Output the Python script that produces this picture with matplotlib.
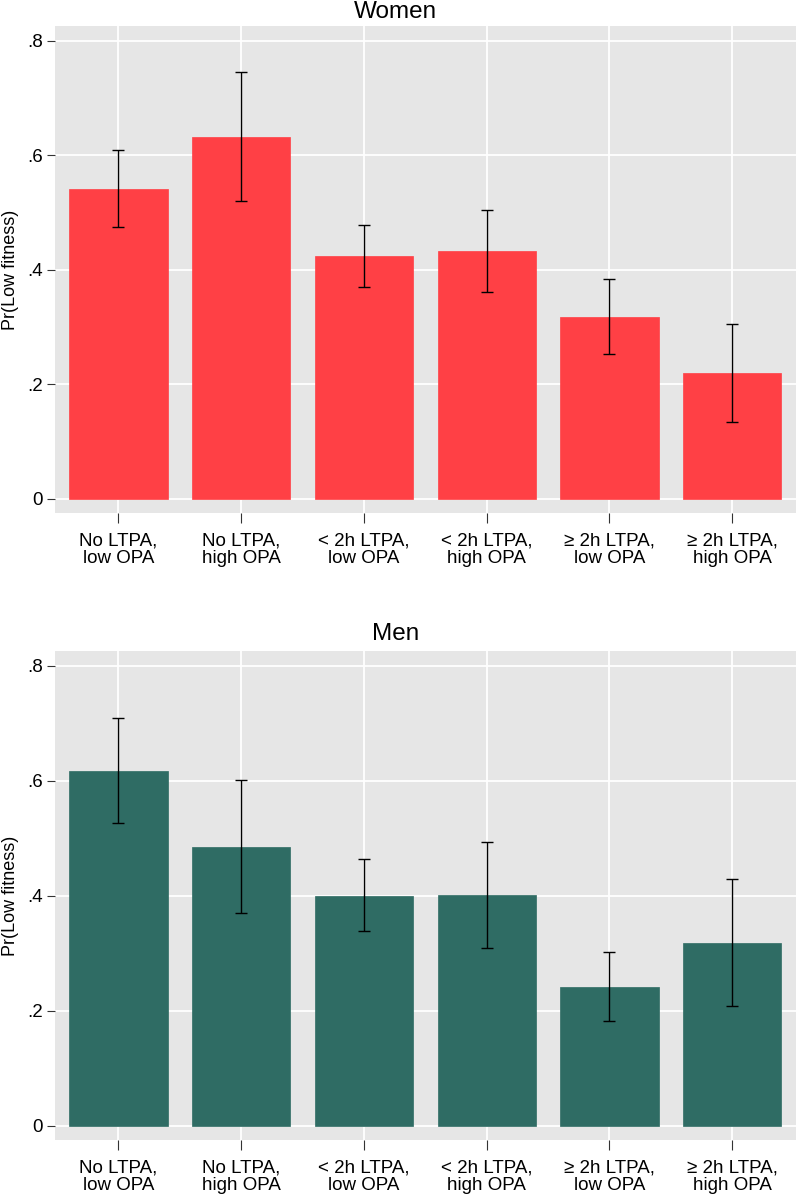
import numpy as np
import matplotlib
matplotlib.use("Agg")
import matplotlib.pyplot as plt

plt.rcParams['font.family'] = ['Liberation Sans', 'DejaVu Sans']

categories = ["No LTPA,\nlow OPA", "No LTPA,\nhigh OPA", "< 2h LTPA,\nlow OPA",
              "< 2h LTPA,\nhigh OPA", "\u2265 2h LTPA,\nlow OPA", "\u2265 2h LTPA,\nhigh OPA"]

women_est = [0.542, 0.632, 0.425, 0.433, 0.318, 0.220]
women_lo = [0.475, 0.520, 0.370, 0.362, 0.253, 0.135]
women_hi = [0.610, 0.746, 0.478, 0.504, 0.384, 0.306]

men_est = [0.618, 0.486, 0.400, 0.402, 0.242, 0.319]
men_lo = [0.527, 0.370, 0.339, 0.309, 0.182, 0.208]
men_hi = [0.710, 0.602, 0.464, 0.494, 0.302, 0.430]

yticks = [0, 0.2, 0.4, 0.6, 0.8]
ytick_labels = ["0", ".2", ".4", ".6", ".8"]

fig = plt.figure(figsize=(7.96, 11.95), dpi=100)
ax_w = fig.add_axes([0.0697, 0.5707, 0.9303, 0.4075])
ax_m = fig.add_axes([0.0697, 0.046, 0.9303, 0.4092])


def panel(ax, title, title_y, est, lo, hi, color):
    x = np.arange(len(categories))
    est = np.array(est)
    err = [est - np.array(lo), np.array(hi) - est]
    ax.set_facecolor('#e6e6e6')
    ax.set_axisbelow(True)
    ax.grid(True, color='white', linewidth=1.3)
    ax.bar(x, est, width=0.8, color=color, edgecolor=color, linewidth=0.5, zorder=2)
    ax.errorbar(x, est, yerr=err, fmt='none', ecolor='black', elinewidth=1,
                capsize=4, capthick=1, zorder=3)
    for s in ax.spines.values():
        s.set_visible(False)
    ax.set_xlim(-0.513, 5.52)
    ax.set_ylim(-0.0245, 0.826)
    ax.set_yticks(yticks)
    ax.set_yticklabels(ytick_labels)
    ax.set_xticks(x)
    ax.set_xticklabels(categories, linespacing=1.05)
    ax.tick_params(axis='y', length=6, width=0.8, color='#333333', labelsize=13.5, pad=3)
    ax.tick_params(axis='x', length=7, width=0.8, color='#333333', labelsize=13.5, pad=7)
    ax.set_ylabel("Pr(Low fitness)", fontsize=13, labelpad=6)
    # title centred on the figure, as in the source
    fig.text(0.497, title_y, title, fontsize=17.5, ha='center', va='center')


panel(ax_w, "Women", 1 - 12 / 1195, women_est, women_lo, women_hi, '#ff4045')
panel(ax_m, "Men", 1 - 634 / 1195, men_est, men_lo, men_hi, '#2f6c64')

fig.savefig("out.png", dpi=100)
